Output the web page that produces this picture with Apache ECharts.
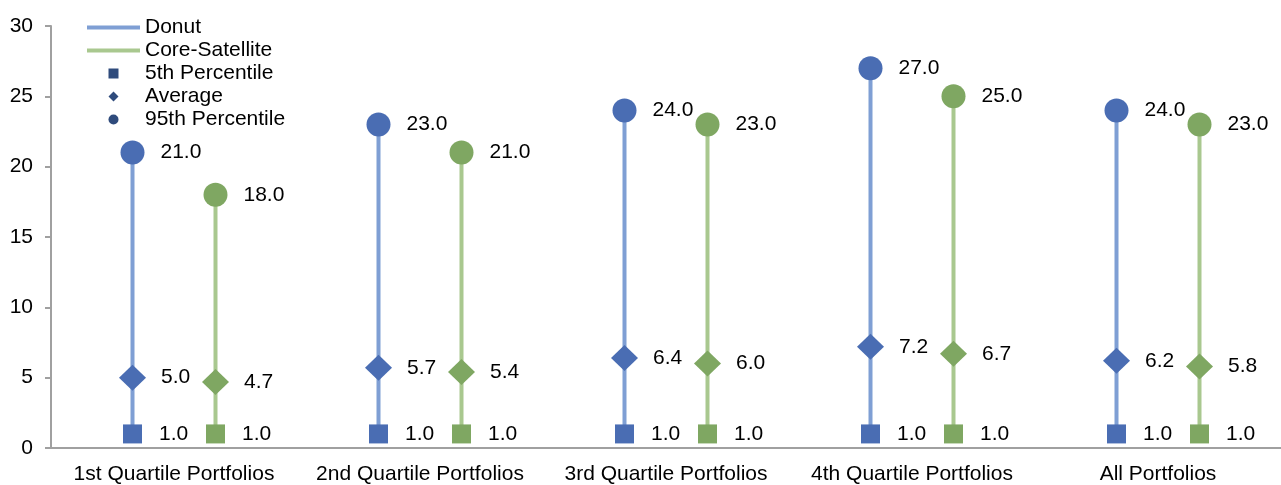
<!DOCTYPE html>
<html>
<head>
<meta charset="utf-8">
<script src="https://cdn.jsdelivr.net/npm/echarts@6/dist/echarts.min.js"></script>
<style>
  html, body { margin: 0; padding: 0; background: #fff; }
  #chart { width: 1281px; height: 485px; }
</style>
</head>
<body>
<div id="chart"></div>
<script>
// Portfolio groups on the category axis
const categories = ['1st Quartile Portfolios', '2nd Quartile Portfolios', '3rd Quartile Portfolios', '4th Quartile Portfolios', 'All Portfolios'];

// Donut portfolios: 5th percentile, average, 95th percentile
const donutP5 = [1.0, 1.0, 1.0, 1.0, 1.0];
const donutAvg = [5.0, 5.7, 6.4, 7.2, 6.2];
const donutP95 = [21.0, 23.0, 24.0, 27.0, 24.0];

// Core-Satellite portfolios: 5th percentile, average, 95th percentile
const coreP5 = [1.0, 1.0, 1.0, 1.0, 1.0];
const coreAvg = [4.7, 5.4, 6.0, 6.7, 5.8];
const coreP95 = [18.0, 21.0, 23.0, 25.0, 23.0];

const FONT = '"Liberation Sans", Arial, sans-serif';
const FS = 21;
const SHIFT = 41.5;           // horizontal pixel shift of each group from the category centre
const DONUT_LINE = '#7f9fd4';
const CORE_LINE = '#a9c88f';
const DONUT_MARK = '#4a6db3';
const CORE_MARK = '#7fa762';
const LEGEND_MARK = '#2f4b7c';

// Vertical range line from the 5th to the 95th percentile
function rangeSeries(name, low, high, dx, color) {
  return {
    name: name,
    type: 'custom',
    z: 1,
    itemStyle: { color: color },
    data: categories.map((c, i) => [i, low[i], high[i]]),
    renderItem: function (params, api) {
      const a = api.coord([api.value(0), api.value(1)]);
      const b = api.coord([api.value(0), api.value(2)]);
      return {
        type: 'line',
        shape: { x1: a[0] + dx, y1: a[1], x2: b[0] + dx, y2: b[1] },
        style: { stroke: color, lineWidth: 4 }
      };
    }
  };
}

// Marker with a value label to its right
function markSeries(name, values, dx, symbol, size, color, dist) {
  return {
    name: name,
    type: 'scatter',
    z: 3,
    symbol: symbol,
    symbolSize: size,
    symbolOffset: [dx, 0],
    itemStyle: { color: color, opacity: 1 },
    label: {
      show: true,
      position: 'right',
      distance: dist,
      fontFamily: FONT,
      fontSize: FS,
      color: '#000',
      formatter: p => Number(p.value).toFixed(1)
    },
    emphasis: { disabled: true },
    data: values
  };
}

const chart = echarts.init(document.getElementById('chart'), null, { renderer: 'canvas' });

chart.setOption({
  animation: false,
  backgroundColor: '#ffffff',
  textStyle: { fontFamily: FONT },
  grid: { left: 51, top: 26, width: 1243, height: 423, containLabel: false },
  legend: {
    orient: 'vertical',
    left: 87,
    top: 17,
    padding: 0,
    itemWidth: 53,
    itemHeight: 10,
    itemGap: 2,
    selectedMode: false,
    symbolKeepAspect: true,
    textStyle: { fontFamily: FONT, fontSize: FS, lineHeight: 21, color: '#000' },
    data: [
      { name: 'Donut', icon: 'path://M0,0H53V4H0Z', itemStyle: { color: DONUT_LINE } },
      { name: 'Core-Satellite', icon: 'path://M0,0H53V4H0Z', itemStyle: { color: CORE_LINE } },
      { name: '5th Percentile', icon: 'path://M0,0H9V9H0Z', itemStyle: { color: LEGEND_MARK } },
      { name: 'Average', icon: 'path://M5,0L10,5L5,10L0,5Z', itemStyle: { color: LEGEND_MARK } },
      { name: '95th Percentile', icon: 'path://M5,0A5,5 0 1,1 5,10A5,5 0 1,1 5,0Z', itemStyle: { color: LEGEND_MARK } }
    ]
  },
  xAxis: {
    type: 'category',
    data: categories,
    boundaryGap: true,
    axisLine: { lineStyle: { color: '#a0a0a0', width: 2 } },
    axisTick: { show: false },
    axisLabel: { fontFamily: FONT, fontSize: FS, color: '#000', margin: 16, interval: 0 },
    splitLine: { show: false }
  },
  yAxis: {
    type: 'value',
    min: 0,
    max: 30,
    interval: 5,
    axisLine: { show: true, lineStyle: { color: '#a0a0a0', width: 2 } },
    axisTick: { show: true, inside: false, length: 6, lineStyle: { color: '#a0a0a0', width: 2 } },
    axisLabel: { fontFamily: FONT, fontSize: FS, color: '#000', margin: 18 },
    splitLine: { show: false }
  },
  series: [
    rangeSeries('Donut', donutP5, donutP95, -SHIFT, DONUT_LINE),
    rangeSeries('Core-Satellite', coreP5, coreP95, SHIFT, CORE_LINE),
    markSeries('5th Percentile', donutP5, -SHIFT, 'rect', 19, DONUT_MARK, 17),
    markSeries('5th Percentile', coreP5, SHIFT, 'rect', 19, CORE_MARK, 17),
    markSeries('Average', donutAvg, -SHIFT, 'diamond', [27, 26], DONUT_MARK, 15),
    markSeries('Average', coreAvg, SHIFT, 'diamond', [27, 26], CORE_MARK, 15),
    markSeries('95th Percentile', donutP95, -SHIFT, 'circle', 24, DONUT_MARK, 16),
    markSeries('95th Percentile', coreP95, SHIFT, 'circle', 24, CORE_MARK, 16)
  ]
});
</script>
</body>
</html>
